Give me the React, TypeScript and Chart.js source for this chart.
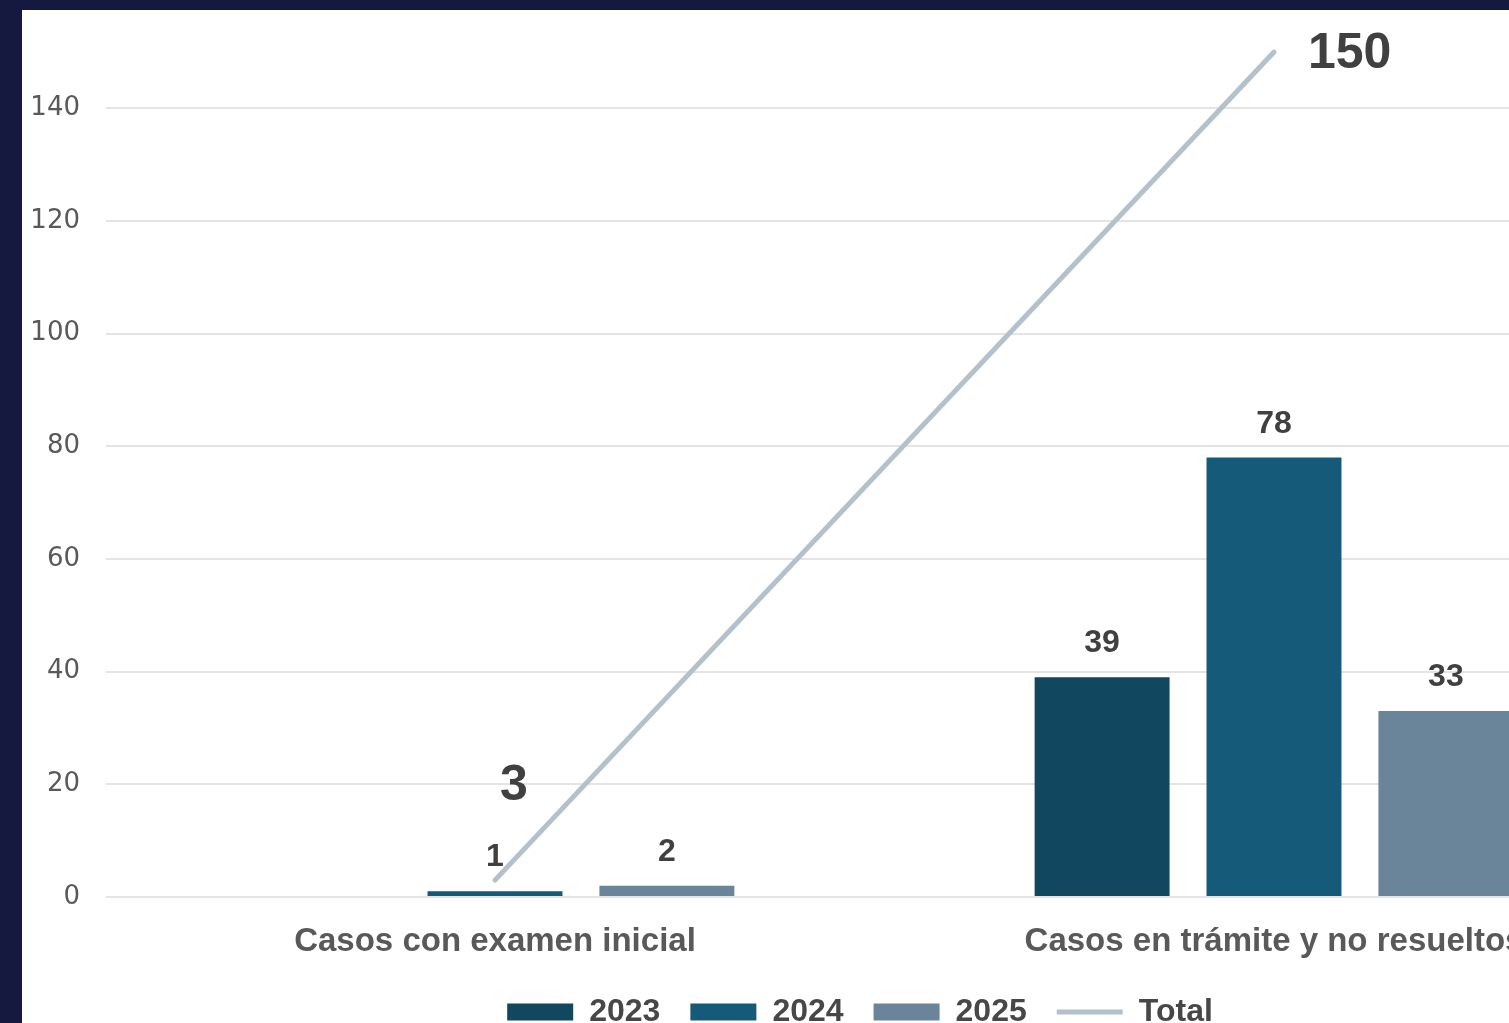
import React, { useEffect, useRef } from "react";
import { Chart, registerables } from "chart.js";

Chart.register(...registerables);

const categories = ["Casos con examen inicial", "Casos en trámite y no resueltos"];
const seriesNames = ["2023", "2024", "2025"];
const values2023 = [0, 39];
const values2024 = [1, 78];
const values2025 = [2, 33];
const totalName = "Total";
const totals = [3, 150];
const yAxisMax = 154;
const yTickStep = 20;

const barColors = ["#11475f", "#165a79", "#6a8599"];
const lineColor = "#b3c1cc";

const W = 1676;
const H = 1028;

const valueLabels = {
  id: "valueLabels",
  afterDatasetsDraw(chart: any) {
    const ctx = chart.ctx;
    ctx.save();
    chart.data.datasets.forEach((ds: any, di: number) => {
      const meta = chart.getDatasetMeta(di);
      meta.data.forEach((el: any, i: number) => {
        const v = ds.data[i];
        if (ds.type === "line") {
          ctx.font = "bold 50px 'Liberation Sans'";
          ctx.fillStyle = "#404040";
          if (i === 0) {
            ctx.textAlign = "center";
            ctx.textBaseline = "middle";
            ctx.fillText(String(v), el.x + 19, el.y - 94);
          } else {
            ctx.textAlign = "left";
            ctx.textBaseline = "middle";
            ctx.fillText(String(v), el.x + 34, el.y + 2);
          }
        } else if (v > 0) {
          ctx.font = "bold 32px 'Liberation Sans'";
          ctx.fillStyle = "#404040";
          ctx.textAlign = "center";
          ctx.textBaseline = "alphabetic";
          ctx.fillText(String(v), el.x, el.y - 25);
        }
      });
    });
    ctx.restore();
  },
};

// centres the legend on the whole panel rather than on the space right of the y axis labels
const legendShift = {
  id: "legendShift",
  afterLayout(chart: any) {
    if (chart.legend) {
      chart.legend.left = 34.5;
    }
  },
};

export default function App() {
  const ref = useRef<HTMLCanvasElement | null>(null);

  useEffect(() => {
    if (!ref.current) return;
    const barSets = [values2023, values2024, values2025].map((vals, k) => ({
      type: "bar" as const,
      label: seriesNames[k],
      data: vals,
      backgroundColor: barColors[k],
      borderWidth: 0,
      pointStyle: "rect",
      categoryPercentage: 0.662,
      barPercentage: 0.785,
    }));
    const chart = new Chart(ref.current, {
      type: "bar",
      data: {
        labels: categories,
        datasets: [
          ...barSets,
          {
            type: "line" as const,
            label: totalName,
            data: totals,
            borderColor: lineColor,
            backgroundColor: lineColor,
            borderWidth: 5,
            borderCapStyle: "round",
            pointRadius: 0,
            pointHoverRadius: 0,
            pointStyle: "line",
            tension: 0,
          } as any,
        ],
      },
      options: {
        responsive: false,
        animation: false,
        devicePixelRatio: 1,
        layout: { padding: { left: 0, right: 34.5, top: 19.5, bottom: 0 } },
        plugins: {
          tooltip: { enabled: false },
          legend: {
            position: "bottom",
            labels: {
              usePointStyle: true,
              pointStyleWidth: 66,
              boxHeight: 17,
              padding: 30,
              color: "#474747",
              font: { family: "'Liberation Sans'", size: 32, weight: "bold" },
            },
          },
        },
        scales: {
          x: {
            grid: { display: false, drawTicks: false },
            border: { display: false },
            ticks: {
              padding: 25,
              color: "#595959",
              maxRotation: 0,
              autoSkip: false,
              font: { family: "'Liberation Sans'", size: 33, weight: "bold" },
            },
            afterFit(scale: any) {
              scale.height = 69;
            },
          },
          y: {
            min: 0,
            max: yAxisMax,
            grid: { color: "#e4e4e4", lineWidth: 2, drawTicks: false },
            border: { display: false },
            ticks: {
              stepSize: yTickStep,
              padding: 25.5,
              color: "#595959",
              font: { family: "'DejaVu Sans'", size: 26 },
            },
            afterBuildTicks(scale: any) {
              scale.ticks = scale.ticks.filter((t: any) => t.value % yTickStep === 0);
            },
            afterFit(scale: any) {
              scale.width = 83.5;
              scale.paddingTop = 0;
              scale.paddingBottom = 0;
            },
          },
        },
      } as any,
      plugins: [valueLabels, legendShift],
    });
    return () => chart.destroy();
  }, []);

  return (
    <div
      style={{
        position: "fixed",
        left: 0,
        top: 0,
        width: 1509,
        height: 1023,
        background: "#16193f",
        overflow: "hidden",
      }}
    >
      <div
        style={{
          position: "absolute",
          left: 22,
          top: 10,
          width: W,
          height: H,
          background: "#ffffff",
        }}
      >
        <canvas ref={ref} width={W} height={H} style={{ display: "block" }} />
      </div>
    </div>
  );
}
